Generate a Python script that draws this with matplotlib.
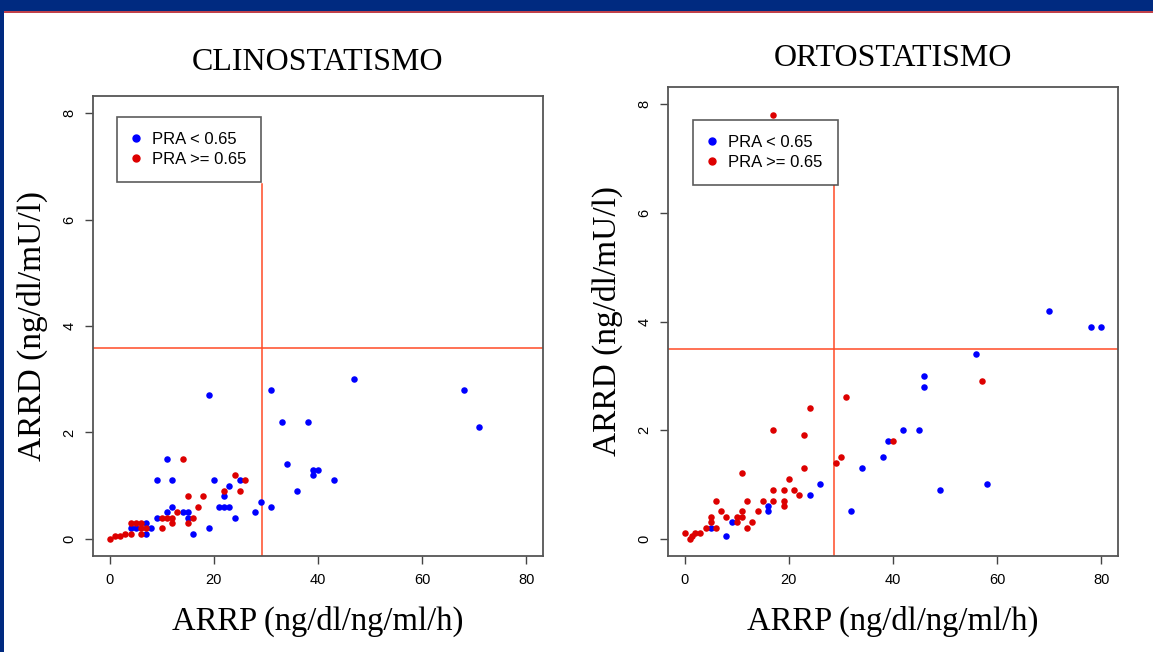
import matplotlib
matplotlib.use("Agg")
import matplotlib.pyplot as plt
import matplotlib.patches as patches
from matplotlib.lines import Line2D

# CLINOSTATISMO (lying down)
clino_blue_x = [4, 5, 7, 7, 8, 9, 9, 11, 11, 12, 12, 14, 15, 15, 16, 19, 19, 20, 21, 22,
                22, 23, 23, 24, 25, 28, 29, 31, 31, 33, 34, 36, 38, 39, 39, 40, 43, 47, 68, 71]
clino_blue_y = [0.2, 0.2, 0.3, 0.1, 0.2, 0.4, 1.1, 1.5, 0.5, 1.1, 0.6, 0.5, 0.5, 0.4, 0.1, 2.7, 0.2, 1.1, 0.6, 0.6,
                0.8, 0.6, 1.0, 0.4, 1.1, 0.5, 0.7, 0.6, 2.8, 2.2, 1.4, 0.9, 2.2, 1.3, 1.2, 1.3, 1.1, 3.0, 2.8, 2.1]
clino_red_x = [0, 1, 2, 3, 4, 4, 5, 6, 6, 7, 6, 10, 10, 11, 12, 12, 13, 14, 15, 15, 16, 17, 18, 22, 24, 25, 26]
clino_red_y = [0.0, 0.05, 0.05, 0.1, 0.1, 0.3, 0.3, 0.3, 0.2, 0.2, 0.1, 0.2, 0.4, 0.4, 0.4, 0.3, 0.5, 1.5, 0.8, 0.3,
               0.4, 0.6, 0.8, 0.9, 1.2, 0.9, 1.1]

# ORTOSTATISMO (standing)
orto_blue_x = [5, 8, 9, 16, 16, 24, 26, 32, 34, 38, 39, 42, 45, 46, 46, 49, 56, 58, 70, 78, 80]
orto_blue_y = [0.2, 0.05, 0.3, 0.6, 0.5, 0.8, 1.0, 0.5, 1.3, 1.5, 1.8, 2.0, 2.0, 2.8, 3.0, 0.9, 3.4, 1.0, 4.2, 3.9, 3.9]
orto_red_x = [0, 1, 1.5, 2, 3, 4, 5, 5, 6, 6, 7, 8, 10, 10, 11, 11, 11, 12, 12, 13, 14, 15, 17, 17, 17, 17,
              19, 19, 19, 20, 21, 22, 23, 23, 24, 29, 30, 31, 40, 57]
orto_red_y = [0.1, 0.0, 0.05, 0.1, 0.1, 0.2, 0.3, 0.4, 0.2, 0.7, 0.5, 0.4, 0.3, 0.4, 0.4, 0.5, 1.2, 0.2, 0.7, 0.3,
              0.5, 0.7, 0.7, 0.9, 2.0, 7.8, 0.6, 0.7, 0.9, 1.1, 0.9, 0.8, 1.3, 1.9, 2.4, 1.4, 1.5, 2.6, 1.8, 2.9]

# cut-off lines (x cut, y cut, top of vertical line)
clino_cut = (29.2, 3.58, 6.66)
orto_cut = (28.7, 3.5, 6.5)

titles = ["CLINOSTATISMO", "ORTOSTATISMO"]
x_ticks = [0, 20, 40, 60, 80]
y_ticks = [0, 2, 4, 6, 8]

BLUE = "#0000ff"
RED = "#dd0000"
LINE = "#ff4a26"
SERIF = "Liberation Serif"
SANS = "Liberation Sans"

fig = plt.figure(figsize=(11.53, 6.52), dpi=100)
fig.patch.set_facecolor("white")

# slide frame: navy bar on top and left
fig.patches.append(patches.Rectangle((0, 1 - 11 / 652), 1, 11 / 652, transform=fig.transFigure,
                                     facecolor="#002a80", edgecolor="none"))
fig.patches.append(patches.Rectangle((0, 1 - 13 / 652), 1, 2 / 652, transform=fig.transFigure,
                                     facecolor="#c0404a", edgecolor="none"))
fig.patches.append(patches.Rectangle((0, 0), 4 / 1153, 1, transform=fig.transFigure,
                                     facecolor="#002a80", edgecolor="none"))

ax1 = fig.add_axes([93 / 1153, 1 - 556 / 652, 450 / 1153, 460 / 652])
ax2 = fig.add_axes([668 / 1153, 1 - 556 / 652, 450 / 1153, 469 / 652])

panels = [
    (ax1, clino_blue_x, clino_blue_y, clino_red_x, clino_red_y, clino_cut, 62, (0.053, 0.954)),
    (ax2, orto_blue_x, orto_blue_y, orto_red_x, orto_red_y, orto_cut, 58, (0.056, 0.93)),
]

for i, (ax, bx, by, rx, ry, cut, title_y, leg_pos) in enumerate(panels):
    ax.scatter(bx, by, s=22, color=BLUE, zorder=3, linewidths=0)
    ax.scatter(rx, ry, s=22, color=RED, zorder=3, linewidths=0)
    ax.set_xlim(-3.2, 83.2)
    ax.set_ylim(-0.32, 8.32)
    xc, yc, vtop = cut
    ax.plot([xc, xc], [-0.32, vtop], color=LINE, lw=1.1, zorder=2)
    ax.plot([-3.2, 83.2], [yc, yc], color=LINE, lw=1.1, zorder=2)

    ax.set_xticks(x_ticks)
    ax.set_yticks(y_ticks)
    ax.tick_params(direction="out", length=6, width=1, color="#444444", labelsize=10.5, pad=6)
    for lab in ax.get_xticklabels():
        lab.set_fontfamily(SANS)
    for lab in ax.get_yticklabels():
        lab.set_fontfamily(SANS)
        lab.set_rotation(90)
        lab.set_va("center")
    for sp in ax.spines.values():
        sp.set_color("#555555")
        sp.set_linewidth(1.3)

    ax.set_xlabel("ARRP (ng/dl/ng/ml/h)", fontfamily=SERIF, fontsize=23.5, labelpad=14)
    ax.set_ylabel("ARRD (ng/dl/mU/l)", fontfamily=SERIF, fontsize=24, labelpad=10)

    bbox = ax.get_position()
    fig.text((bbox.x0 + bbox.x1) / 2, 1 - title_y / 652, titles[i], fontfamily=SERIF,
             fontsize=23, ha="center", va="center")

    handles = [Line2D([], [], ls="none", marker="o", ms=5, mfc=BLUE, mec=BLUE),
               Line2D([], [], ls="none", marker="o", ms=5, mfc=RED, mec=RED)]
    leg = ax.legend(handles, ["PRA < 0.65", "PRA >= 0.65"], loc="upper left",
                    bbox_to_anchor=leg_pos, prop={"family": SANS, "size": 12},
                    frameon=True, fancybox=False, handletextpad=0.7, handlelength=0.5,
                    borderpad=0.9, labelspacing=0.3, borderaxespad=0)
    leg.get_frame().set_edgecolor("#333333")
    leg.get_frame().set_linewidth(1.2)

fig.savefig("out.png", dpi=100)
